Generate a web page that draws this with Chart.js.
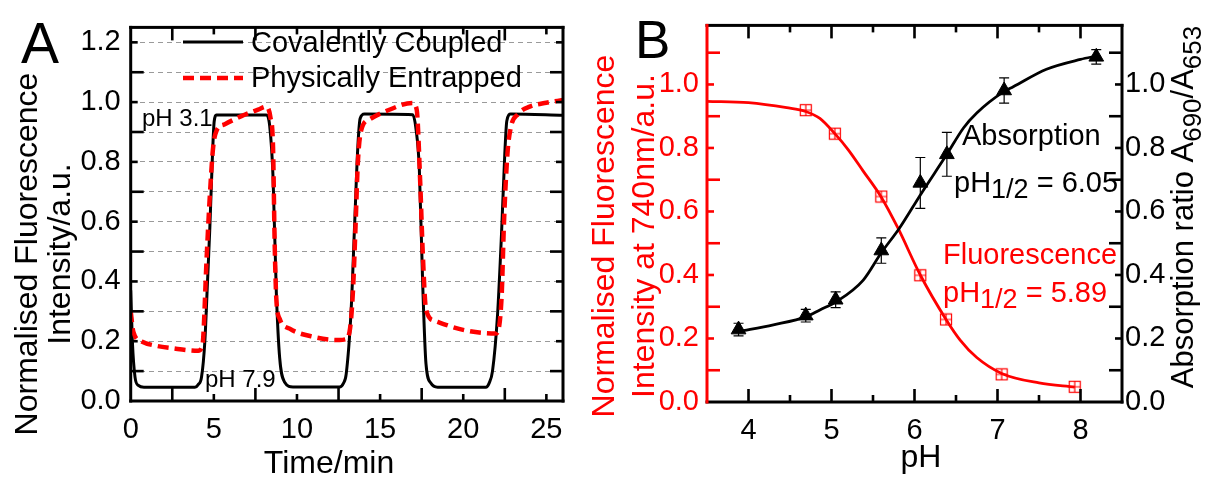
<!DOCTYPE html>
<html>
<head>
<meta charset="utf-8">
<script src="https://cdn.jsdelivr.net/npm/chart.js@4.4.1/dist/chart.umd.min.js"></script>
<style>
  html, body { margin: 0; padding: 0; background: #fff; }
  #wrap { position: relative; width: 1209px; height: 481px; overflow: hidden; }
  #chartA { position: absolute; left: 0; top: 0; width: 580px; height: 481px; }
  #chartB { position: absolute; left: 580px; top: 0; width: 629px; height: 481px; }
</style>
</head>
<body>
<div id="wrap">
  <canvas id="chartA" width="580" height="481"></canvas>
  <canvas id="chartB" width="629" height="481"></canvas>
</div>
<script>
const FONT = '"Liberation Sans", Arial, Helvetica, sans-serif';
Chart.defaults.font.family = FONT;
Chart.defaults.color = '#000';

// ---------- Panel A: fluorescence vs time ----------
const timeCovalent = [0, 0.1, 0.26, 0.46, 0.8, 3.86, 4.06, 4.26, 4.46, 4.62, 4.76, 4.9, 5.02, 5.16,
  8.16, 8.36, 8.56, 8.76, 8.96, 9.26, 9.76, 12.56, 12.8, 12.96, 13.26, 13.46, 13.66, 13.8, 14.06,
  16.96, 17.16, 17.36, 17.56, 17.76, 18.06, 18.46, 21.36, 21.56, 21.76, 22.06, 22.3, 22.5, 22.62, 22.86, 26];
const intCovalent = [0.37, 0.2, 0.08, 0.052, 0.046, 0.046, 0.055, 0.08, 0.2, 0.4, 0.58, 0.796, 0.935, 0.957,
  0.957, 0.92, 0.75, 0.36, 0.144, 0.063, 0.047, 0.047, 0.06, 0.09, 0.307, 0.58, 0.85, 0.945, 0.96,
  0.958, 0.91, 0.775, 0.394, 0.124, 0.059, 0.046, 0.046, 0.06, 0.1, 0.286, 0.557, 0.828, 0.937, 0.96, 0.956];

const timeEntrapped = [0, 0.16, 0.66, 1.5, 2.46, 4.06, 4.3, 4.36, 4.56, 4.76, 4.96, 5.16, 5.66, 6.66, 7.66, 8.16,
  8.4, 8.56, 8.66, 8.76, 8.96, 9.56, 10.96, 12.56, 12.9, 13.16, 13.36, 13.52, 13.66, 13.86, 14.36, 15.36, 16.96,
  17.2, 17.42, 17.56, 17.76, 18.26, 20.06, 21.96, 22.3, 22.46, 22.66, 22.86, 23.3, 24.0, 25.0, 26];
const intEntrapped = [0.3, 0.231, 0.199, 0.185, 0.177, 0.168, 0.185, 0.21, 0.47, 0.687, 0.85, 0.904, 0.926, 0.953, 0.975, 0.985,
  0.95, 0.85, 0.524, 0.34, 0.275, 0.242, 0.215, 0.204, 0.206, 0.231, 0.36, 0.58, 0.796, 0.905, 0.942, 0.97, 0.997,
  0.975, 0.72, 0.503, 0.307, 0.269, 0.237, 0.226, 0.34, 0.611, 0.828, 0.915, 0.96, 0.985, 0.998, 1.007];

// ---------- Panel B: pH titration ----------
const phFluor = [4.69, 5.04, 5.60, 6.07, 6.38, 7.05, 7.93];
const fluorInt = [0.919, 0.845, 0.647, 0.399, 0.26, 0.087, 0.048];
const phFluorFit = [3.5, 4.0, 4.46, 4.69, 4.86, 5.04, 5.2, 5.38, 5.6, 5.8, 6.07, 6.38, 6.55, 6.75, 7.05, 7.5, 7.93];
const fluorFit = [0.947, 0.943, 0.927, 0.915, 0.893, 0.845, 0.795, 0.728, 0.645, 0.548, 0.4, 0.26, 0.195, 0.14, 0.09, 0.06, 0.047];

const phAbs = [3.88, 4.69, 5.05, 5.60, 6.07, 6.39, 7.08, 8.19];
const absRatio = [0.228, 0.272, 0.322, 0.477, 0.69, 0.78, 0.981, 1.087];
const absErr = [0.02, 0.02, 0.025, 0.04, 0.08, 0.069, 0.04, 0.023];
const phAbsFit = [3.88, 4.3, 4.7, 4.86, 5.06, 5.38, 5.6, 5.82, 6.08, 6.39, 6.59, 6.75, 7.08, 7.19, 7.59, 8.0, 8.2];
const absFit = [0.222, 0.243, 0.269, 0.29, 0.316, 0.383, 0.47, 0.548, 0.656, 0.78, 0.863, 0.91, 0.978, 0.993, 1.048, 1.079, 1.09];

const toPts = (xs, ys) => xs.map((x, i) => ({ x, y: ys[i] }));

/* ---------- helpers ---------- */

function rich(ctx, x, y, parts, rot, align, color) {
    ctx.save();
    ctx.translate(x, y);
    ctx.rotate(rot || 0);
    ctx.fillStyle = color || '#000';
    ctx.textAlign = 'left';
    ctx.textBaseline = 'alphabetic';
    let total = 0;
    parts.forEach(p => { ctx.font = p[1] + 'px ' + FONT; total += ctx.measureText(p[0]).width; });
    let cx = align === 'center' ? -total / 2 : 0;
    parts.forEach(p => {
        ctx.font = p[1] + 'px ' + FONT;
        ctx.fillText(p[0], cx, p[2]);
        cx += ctx.measureText(p[0]).width;
    });
    ctx.restore();
}

// box round the plot with inward ticks on every side
// each side: scale id, first/last tick, step, how many steps make a major tick
function drawFrame(chart, sides) {
    const ctx = chart.ctx;
    const a = chart.chartArea;
    ctx.save();
    sides.forEach(s => {
        const sc = chart.scales[s.scale];
        ctx.fillStyle = s.color;
        const n = Math.round((s.hi - s.lo) / s.step);
        for (let k = 0; k <= n; k++) {
            const v = s.lo + k * s.step;
            const len = (k % s.every === 0) ? 13 : 7;
            const p = sc.getPixelForValue(v);
            if (s.side === 'left') ctx.fillRect(a.left, p - 1.3, len, 2.6);
            if (s.side === 'right') ctx.fillRect(a.right - len, p - 1.3, len, 2.6);
            if (s.side === 'bottom') ctx.fillRect(p - 1.3, a.bottom - len, 2.6, len);
            if (s.side === 'top') ctx.fillRect(p - 1.3, a.top, 2.6, len);
        }
    });
    sides.forEach(s => {
        ctx.fillStyle = s.color;
        if (s.side === 'left') ctx.fillRect(a.left - 1.5, a.top - 1.5, 3, a.bottom - a.top + 3);
        if (s.side === 'right') ctx.fillRect(a.right - 1.5, a.top - 1.5, 3, a.bottom - a.top + 3);
        if (s.side === 'bottom') ctx.fillRect(a.left - 1.5, a.bottom - 1.5, a.right - a.left + 3, 3);
        if (s.side === 'top') ctx.fillRect(a.left - 1.5, a.top - 1.5, a.right - a.left + 3, 3);
    });
    ctx.restore();
}

function squareMarker() {
    const c = document.createElement('canvas');
    c.width = 14; c.height = 14;
    const g = c.getContext('2d');
    g.strokeStyle = '#ff0000';
    g.lineWidth = 1.2;
    g.strokeRect(1.5, 1.5, 11, 11);
    g.beginPath();
    g.moveTo(7, 1.5); g.lineTo(7, 12.5);
    g.moveTo(1.5, 7); g.lineTo(12.5, 7);
    g.stroke();
    return c;
}

const tickFont = { size: 29 };

/* ---------- Panel A ---------- */

const decorA = {
    id: 'decorA',
    beforeDatasetsDraw(chart) {
        const ctx = chart.ctx;
        rich(ctx, 142, 126, [['pH 3.1', 24, 0]], 0, 'left');
        rich(ctx, 205, 387, [['pH 7.9', 24, 0]], 0, 'left');
    },
    afterDraw(chart) {
        const ctx = chart.ctx;
        drawFrame(chart, [
            { side: 'left', scale: 'y', color: '#000', lo: 0.1, hi: 1.2, step: 0.1, every: 2 },
            { side: 'right', scale: 'y', color: '#000', lo: 0.1, hi: 1.2, step: 0.1, every: 2 },
            { side: 'bottom', scale: 'x', color: '#000', lo: 2.5, hi: 25, step: 2.5, every: 2 },
            { side: 'top', scale: 'x', color: '#000', lo: 2.5, hi: 25, step: 2.5, every: 2 }
        ]);
        rich(ctx, 21, 63, [['A', 57, 0]], 0, 'left');
        rich(ctx, 37, 254, [['Normalised Fluorescence', 32, 0]], -Math.PI / 2, 'center');
        rich(ctx, 70, 254, [['Intensity/a.u.', 32, 0]], -Math.PI / 2, 'center');
        rich(ctx, 329, 473, [['Time/min', 32, 0]], 0, 'center');

        // legend
        ctx.save();
        ctx.strokeStyle = '#000';
        ctx.lineWidth = 3;
        ctx.beginPath(); ctx.moveTo(183, 42); ctx.lineTo(243, 42); ctx.stroke();
        ctx.strokeStyle = '#ff0000';
        ctx.lineWidth = 4.5;
        ctx.setLineDash([11, 6]);
        ctx.beginPath(); ctx.moveTo(183, 78); ctx.lineTo(243, 78); ctx.stroke();
        ctx.restore();
        rich(ctx, 251, 52, [['Covalently Coupled', 29, 0]], 0, 'left');
        rich(ctx, 251, 87, [['Physically Entrapped', 29, 0]], 0, 'left');
    }
};

new Chart(document.getElementById('chartA'), {
    type: 'line',
    data: {
        datasets: [
            {
                label: 'Physically Entrapped',
                data: toPts(timeEntrapped, intEntrapped),
                borderColor: '#ff0000',
                borderWidth: 4.5,
                borderDash: [11, 6],
                pointRadius: 0,
                cubicInterpolationMode: 'monotone',
                order: 1
            },
            {
                label: 'Covalently Coupled',
                data: toPts(timeCovalent, intCovalent),
                borderColor: '#000',
                borderWidth: 3,
                pointRadius: 0,
                cubicInterpolationMode: 'monotone',
                order: 2
            }
        ]
    },
    options: {
        responsive: false,
        animation: false,
        layout: { padding: { top: 17, right: 17, left: 0, bottom: 0 } },
        plugins: { legend: { display: false }, tooltip: { enabled: false } },
        scales: {
            x: {
                type: 'linear', min: 0, max: 26,
                ticks: {
                    stepSize: 2.5, includeBounds: false, autoSkip: false, maxRotation: 0,
                    font: tickFont, color: '#000', padding: 12,
                    callback: v => (Math.round(v * 2) % 10 === 0 ? String(Math.round(v)) : '')
                },
                grid: { display: false, drawTicks: false },
                border: { display: false },
                afterFit: s => { s.height = 80; }
            },
            y: {
                type: 'linear', min: 0, max: 1.25,
                ticks: {
                    stepSize: 0.1, includeBounds: false, autoSkip: false,
                    font: tickFont, color: '#000', padding: 10,
                    callback: v => { const k = Math.round(v * 10); return k % 2 === 0 ? (k / 10).toFixed(1) : ''; }
                },
                grid: {
                    drawTicks: false, lineWidth: 1,
                    color: c => (c.tick && c.tick.value > 0.001 ? '#9a9a9a' : 'rgba(0,0,0,0)')
                },
                border: { display: false, dash: [5, 4] },
                afterFit: s => { s.width = 130.7; }
            }
        }
    },
    plugins: [decorA]
});

/* ---------- Panel B ---------- */

const decorB = {
    id: 'decorB',
    afterDatasetsDraw(chart) {
        const ctx = chart.ctx;
        const xs = chart.scales.x, ys = chart.scales.y2;
        ctx.save();
        ctx.strokeStyle = '#000';
        ctx.lineWidth = 1.2;
        phAbs.forEach((ph, i) => {
            const x = xs.getPixelForValue(ph);
            const yTop = ys.getPixelForValue(absRatio[i] + absErr[i]);
            const yBot = ys.getPixelForValue(absRatio[i] - absErr[i]);
            ctx.beginPath();
            ctx.moveTo(x, yTop); ctx.lineTo(x, yBot);
            ctx.moveTo(x - 5, yTop); ctx.lineTo(x + 5, yTop);
            ctx.moveTo(x - 5, yBot); ctx.lineTo(x + 5, yBot);
            ctx.stroke();
        });
        ctx.restore();
    },
    afterDraw(chart) {
        const ctx = chart.ctx;
        drawFrame(chart, [
            { side: 'right', scale: 'y2', color: '#000', lo: 0.1, hi: 1.1, step: 0.1, every: 2 },
            { side: 'bottom', scale: 'x', color: '#000', lo: 4, hi: 8, step: 0.5, every: 2 },
            { side: 'top', scale: 'x', color: '#000', lo: 4, hi: 8, step: 0.5, every: 2 },
            { side: 'left', scale: 'y', color: '#ff0000', lo: 0.1, hi: 1.1, step: 0.1, every: 2 }
        ]);
        rich(ctx, 55, 58, [['B', 53, 0]], 0, 'left');
        rich(ctx, 34, 236, [['Normalised Fluorescence', 32, 0]], -Math.PI / 2, 'center', '#ff0000');
        rich(ctx, 74, 236, [['Intensity at 740nm/a.u.', 32, 0]], -Math.PI / 2, 'center', '#ff0000');
        rich(ctx, 613, 207, [['Absorption ratio A', 31, 0], ['690', 26, 8], ['/A', 31, 0], ['653', 26, 8]], -Math.PI / 2, 'center');
        rich(ctx, 341, 467, [['pH', 32, 0]], 0, 'center');

        rich(ctx, 382, 145, [['Absorption', 29, 0]], 0, 'left');
        rich(ctx, 374, 192, [['pH', 29, 0], ['1/2', 27, 6], [' = 6.05', 29, 0]], 0, 'left');
        rich(ctx, 363, 264, [['Fluorescence', 29, 0]], 0, 'left', '#ff0000');
        rich(ctx, 363, 302, [['pH', 29, 0], ['1/2', 27, 6], [' = 5.89', 29, 0]], 0, 'left', '#ff0000');
    }
};

const labelEven = v => { const k = Math.round(v * 10); return k % 2 === 0 ? (k / 10).toFixed(1) : ''; };

new Chart(document.getElementById('chartB'), {
    type: 'line',
    data: {
        datasets: [
            {
                label: 'Absorption',
                data: toPts(phAbs, absRatio),
                showLine: false,
                pointStyle: 'triangle',
                pointRadius: 8.5,
                backgroundColor: '#000',
                borderColor: '#000',
                borderWidth: 1,
                yAxisID: 'y2',
                order: 1
            },
            {
                label: 'Fluorescence',
                data: toPts(phFluor, fluorInt),
                showLine: false,
                pointStyle: squareMarker(),
                pointRadius: 7,
                yAxisID: 'y',
                order: 2
            },
            {
                label: 'Absorption fit',
                data: toPts(phAbsFit, absFit),
                borderColor: '#000',
                borderWidth: 2.8,
                pointRadius: 0,
                cubicInterpolationMode: 'monotone',
                yAxisID: 'y2',
                order: 3
            },
            {
                label: 'Fluorescence fit',
                data: toPts(phFluorFit, fluorFit),
                borderColor: '#ff0000',
                borderWidth: 2.8,
                pointRadius: 0,
                cubicInterpolationMode: 'monotone',
                yAxisID: 'y',
                order: 4
            }
        ]
    },
    options: {
        responsive: false,
        animation: false,
        layout: { padding: { top: 19, right: 0, left: 0, bottom: 0 } },
        plugins: { legend: { display: false }, tooltip: { enabled: false } },
        scales: {
            x: {
                type: 'linear', min: 3.5, max: 8.5,
                ticks: {
                    stepSize: 0.5, includeBounds: false, autoSkip: false, maxRotation: 0,
                    font: tickFont, color: '#000', padding: 12,
                    callback: v => (Math.abs(v - Math.round(v)) < 1e-6 ? String(Math.round(v)) : '')
                },
                grid: { display: false, drawTicks: false },
                border: { display: false },
                afterFit: s => { s.height = 79; }
            },
            y: {
                type: 'linear', position: 'left', min: 0, max: 1.186,
                ticks: {
                    stepSize: 0.1, includeBounds: false, autoSkip: false,
                    font: tickFont, color: '#ff0000', padding: 8, callback: labelEven
                },
                grid: { display: false, drawTicks: false },
                border: { display: false },
                afterFit: s => { s.width = 127; }
            },
            y2: {
                type: 'linear', position: 'right', min: 0, max: 1.186,
                ticks: {
                    stepSize: 0.1, includeBounds: false, autoSkip: false,
                    font: tickFont, color: '#000', padding: 3, callback: labelEven
                },
                grid: { display: false, drawTicks: false },
                border: { display: false },
                afterFit: s => { s.width = 87; }
            }
        }
    },
    plugins: [decorB]
});
</script>
</body>
</html>
